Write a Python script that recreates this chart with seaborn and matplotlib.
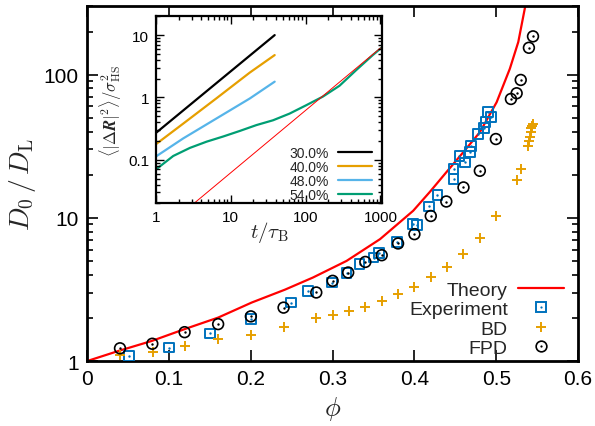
import matplotlib
matplotlib.use("Agg")
import matplotlib.pyplot as plt
import seaborn as sns
from matplotlib.lines import Line2D
from matplotlib.legend_handler import HandlerTuple
from matplotlib.ticker import FixedLocator, FixedFormatter, LogLocator, NullFormatter

# ---- main panel data ----
theory_phi = [0.0, 0.038, 0.0787, 0.119, 0.160, 0.201, 0.2417, 0.276, 0.317, 0.358,
              0.3985, 0.419, 0.439, 0.4597, 0.480, 0.5005, 0.5167, 0.527, 0.5355]
theory_d = [1.0, 1.175, 1.38, 1.67, 2.01, 2.56, 3.15, 3.83, 5.0, 7.1,
            11.2, 15.2, 20.8, 28.7, 39.6, 64.1, 110, 169, 300]

exp_phi = [0.051, 0.100, 0.150, 0.200, 0.249, 0.270, 0.299, 0.317, 0.333, 0.350,
           0.357, 0.379, 0.398, 0.403, 0.418, 0.428, 0.448, 0.448, 0.455, 0.462,
           0.468, 0.469, 0.478, 0.485, 0.487, 0.490, 0.494]
exp_d = [1.08, 1.24, 1.56, 1.96, 2.56, 3.09, 3.53, 4.1, 4.75, 5.28,
         5.66, 6.79, 9.03, 8.9, 12.0, 14.5, 18.6, 21.9, 26.9, 24.4,
         28.9, 31.6, 38.5, 42.2, 46.9, 54.6, 50.4]

bd_phi = [0.04, 0.08, 0.12, 0.16, 0.20, 0.24, 0.28, 0.30, 0.32, 0.34, 0.36, 0.38,
          0.40, 0.42, 0.44, 0.46, 0.48, 0.50, 0.525, 0.53, 0.539, 0.540, 0.541,
          0.542, 0.543, 0.544, 0.545]
bd_d = [1.11, 1.156, 1.27, 1.42, 1.52, 1.73, 2.01, 2.08, 2.24, 2.39, 2.63, 2.93,
        3.29, 3.87, 4.54, 5.57, 7.21, 10.3, 18.5, 21.9, 31.9, 34.2, 36.8,
        39.6, 42.4, 44.0, 45.0]

fpd_phi = [0.040, 0.0795, 0.119, 0.160, 0.200, 0.240, 0.280, 0.300, 0.319, 0.340,
           0.360, 0.380, 0.400, 0.420, 0.439, 0.460, 0.480, 0.4996, 0.518, 0.525,
           0.530, 0.540, 0.545]
fpd_d = [1.227, 1.32, 1.59, 1.81, 2.05, 2.36, 3.01, 3.63, 4.15, 4.92,
         5.48, 6.62, 7.69, 10.3, 13.0, 16.3, 21.3, 35.5, 67.6, 74.1,
         91.8, 154, 185]

# ---- inset data: mean squared displacement vs time ----
t30 = [1.0, 38.6]
msd30 = [0.27, 10.0]
t40 = [1.0, 2.31, 6.44, 17.9, 38.6]
msd40 = [0.178, 0.38, 0.97, 2.5, 4.78]
t48 = [1.0, 2.31, 6.44, 17.9, 38.6]
msd48 = [0.113, 0.22, 0.46, 0.96, 1.79]
t54 = [1.0, 1.7, 2.84, 4.74, 7.9, 13.2, 22, 36.7, 61, 102, 170, 284, 474, 789, 1040]
msd54 = [0.07, 0.115, 0.155, 0.195, 0.236, 0.29, 0.36, 0.43, 0.55, 0.75, 1.03,
         1.54, 2.74, 4.77, 6.3]
t_free = [3.0, 1000]
msd_free = [0.0186, 6.2]
inset_labels = ["30.0%", "40.0%", "48.0%", "54.0%"]

blue = "#0072BD"
orange = "#E69F00"
sky = "#56B4E9"
green = "#009E73"

sns.set_style("white")
plt.rcParams["font.family"] = ["Liberation Sans", "DejaVu Sans"]
plt.rcParams["mathtext.fontset"] = "cm"
plt.rcParams.update({
    "axes.axisbelow": False,
    "axes.edgecolor": "black",
    "xtick.color": "black", "ytick.color": "black",
    "xtick.direction": "in", "ytick.direction": "in",
    "xtick.top": True, "ytick.right": True,
    "xtick.bottom": True, "ytick.left": True,
})

fig = plt.figure(figsize=(5.95, 4.27), dpi=100)
ax = fig.add_axes([0.1467, 0.1522, 0.8247, 0.8307])

sns.lineplot(x=theory_phi, y=theory_d, color="red", lw=1.6, ax=ax,
             estimator=None, sort=False)
sns.scatterplot(x=exp_phi, y=exp_d, marker="s", s=48, facecolors="none",
                edgecolor=blue, linewidth=1.4, ax=ax, zorder=3)
sns.scatterplot(x=exp_phi, y=exp_d, marker="o", s=3, color=blue, linewidth=0,
                ax=ax, zorder=3)
sns.scatterplot(x=bd_phi, y=bd_d, marker="+", s=60, color=orange, linewidth=1.4,
                ax=ax, zorder=3)
sns.scatterplot(x=fpd_phi, y=fpd_d, marker="o", s=60, facecolors="none",
                edgecolor="black", linewidth=1.2, ax=ax, zorder=4)
sns.scatterplot(x=fpd_phi, y=fpd_d, marker="o", s=3, color="black", linewidth=0,
                ax=ax, zorder=4)

ax.set_yscale("log")
ax.set_xlim(0, 0.6)
ax.set_ylim(1, 300)
ax.set_xticks([0, 0.1, 0.2, 0.3, 0.4, 0.5, 0.6])
ax.set_xticklabels(["0", "0.1", "0.2", "0.3", "0.4", "0.5", "0.6"])
ax.yaxis.set_major_locator(FixedLocator([1, 10, 100]))
ax.yaxis.set_major_formatter(FixedFormatter(["1", "10", "100"]))
ax.yaxis.set_minor_locator(LogLocator(base=10, subs=range(2, 10)))
ax.yaxis.set_minor_formatter(NullFormatter())
ax.tick_params(which="both", direction="in", top=True, right=True,
               color="black", width=1.2)
ax.tick_params(which="major", length=8, labelsize=15, pad=6)
ax.tick_params(which="minor", length=4)
for sp in ax.spines.values():
    sp.set_linewidth(2)
    sp.set_color("black")
ax.set_xlabel(r"$\phi$", fontsize=19, labelpad=4)
ax.set_ylabel(r"$D_0\,/\,D_\mathrm{L}$", fontsize=20, labelpad=4)

h_theory = Line2D([], [], color="red", lw=1.6)
h_exp = (Line2D([], [], marker="s", ls="", mfc="none", mec=blue, ms=6.9, mew=1.4),
         Line2D([], [], marker="o", ls="", ms=1.6, color=blue, mew=0))
h_bd = Line2D([], [], marker="+", ls="", color=orange, ms=7.7, mew=1.4)
h_fpd = (Line2D([], [], marker="o", ls="", mfc="none", mec="black", ms=7.7, mew=1.2),
         Line2D([], [], marker="o", ls="", ms=1.6, color="black", mew=0))
ax.legend([h_theory, h_exp, h_bd, h_fpd], ["Theory", "Experiment", "BD", "FPD"],
          handler_map={tuple: HandlerTuple(ndivide=1)}, markerfirst=False,
          loc="lower right", bbox_to_anchor=(0.972, 0.0106), frameon=False,
          fontsize=14, handlelength=2.4, labelspacing=0.1, handletextpad=0.5,
          borderpad=0.0, borderaxespad=0.0)

# ---- inset ----
axin = fig.add_axes([0.2622, 0.5215, 0.3798, 0.4379])
axin.set_facecolor("white")
sns.lineplot(x=t30, y=msd30, color="black", lw=1.6, ax=axin, label=inset_labels[0])
sns.lineplot(x=t40, y=msd40, color=orange, lw=1.6, ax=axin, label=inset_labels[1])
sns.lineplot(x=t48, y=msd48, color=sky, lw=1.6, ax=axin, label=inset_labels[2])
sns.lineplot(x=t54, y=msd54, color=green, lw=1.6, ax=axin, label=inset_labels[3])
sns.lineplot(x=t_free, y=msd_free, color="red", lw=0.7, ax=axin)
axin.set_xscale("log")
axin.set_yscale("log")
axin.set_xlim(1, 1050)
axin.set_ylim(0.02, 20)
axin.xaxis.set_major_locator(FixedLocator([1, 10, 100, 1000]))
axin.xaxis.set_major_formatter(FixedFormatter(["1", "10", "100", "1000"]))
axin.yaxis.set_major_locator(FixedLocator([0.1, 1, 10]))
axin.yaxis.set_major_formatter(FixedFormatter(["0.1", "1", "10"]))
for a in (axin.xaxis, axin.yaxis):
    a.set_minor_locator(LogLocator(base=10, subs=range(2, 10)))
    a.set_minor_formatter(NullFormatter())
axin.tick_params(which="both", direction="in", top=True, right=True,
                 color="black", width=1)
axin.tick_params(which="major", length=6, labelsize=11, pad=5)
axin.tick_params(which="minor", length=3)
for sp in axin.spines.values():
    sp.set_linewidth(1.6)
    sp.set_color("black")
axin.set_xlabel(r"$t/\tau_\mathrm{B}$", fontsize=15, labelpad=-4)
axin.set_ylabel(r"$\langle|\Delta \mathbfit{R}|^2\rangle/\sigma_\mathrm{HS}^2$",
                fontsize=12, labelpad=3)
axin.legend(loc="lower right", bbox_to_anchor=(0.954, 0.007), markerfirst=False,
            frameon=False, fontsize=10, handlelength=2.4, labelspacing=0.0,
            handletextpad=0.7, borderpad=0.0, borderaxespad=0.0)

fig.savefig("out.png", dpi=100)
